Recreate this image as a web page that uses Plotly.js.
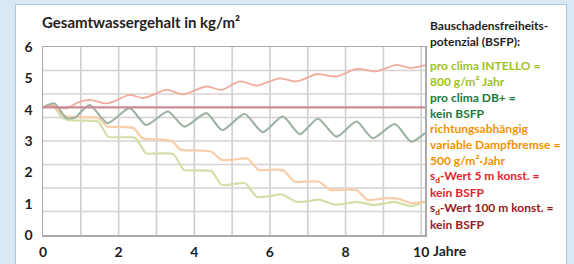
<!DOCTYPE html>
<html>
<head>
<meta charset="utf-8">
<script src="https://cdn.plot.ly/plotly-3.0.1.min.js"></script>
<style>
  html, body { margin: 0; padding: 0; }
  body { width: 574px; height: 264px; background: #d9e8f4; position: relative; overflow: hidden; }
  #frame { position: absolute; left: 15px; top: 4px; width: 550px; height: 262px; background: #ffffff;
           border-left: 1px solid #a9c7df; border-right: 1px solid #a9c7df; border-top: 1px solid #a9c7df; }
  #chart { position: absolute; left: 0; top: 0; width: 574px; height: 264px; }
</style>
</head>
<body>
<div id="frame"></div>
<div id="chart"></div>
<script>
// ---- data ----
const titleText = "Gesamtwassergehalt in kg/m²";
const xRange = [0, 10.1];
const yRange = [0, 6];
const xTickVals = [0, 2, 4, 6, 8, 10];
const xTickText = ["0", "2", "4", "6", "8", "10"];
const xGridVals = [1, 2, 3, 4, 5, 6, 7, 8, 9, 10];
const xUnit = "Jahre";
const yTickVals = [0, 1, 2, 3, 4, 5, 6];
const yGridVals = [0.75, 1.5, 2.25, 3, 3.75, 4.5, 5.25];

// s_d-Wert 100 m konst.
const sd100X = [0, 2, 4, 6, 8, 10.1];
const sd100Y = [4.07, 4.07, 4.07, 4.07, 4.07, 4.07];

// s_d-Wert 5 m konst.
const sd5X = [0, 0.25, 0.6, 0.95, 1.25, 1.7, 2.3, 2.65, 3.27, 3.7, 4.32, 4.72, 5.2, 5.65, 6.26, 6.7, 7.24, 7.76, 8.3, 8.8, 9.35, 9.72, 10.1];
const sd5Y = [4.07, 4.12, 4.04, 4.24, 4.31, 4.2, 4.47, 4.37, 4.63, 4.49, 4.74, 4.63, 4.9, 4.77, 5.0, 4.9, 5.13, 5.06, 5.3, 5.22, 5.43, 5.33, 5.42];

// pro clima DB+
const dbX = [0, 0.3, 0.62, 0.85, 1.23, 1.71, 2.29, 2.73, 3.3, 3.74, 4.32, 4.74, 5.33, 5.81, 6.34, 6.79, 7.27, 7.76, 8.29, 8.72, 9.3, 9.74, 10.1];
const dbY = [4.07, 4.2, 3.73, 3.75, 4.15, 3.57, 4.05, 3.51, 3.94, 3.46, 3.89, 3.35, 3.86, 3.28, 3.78, 3.22, 3.71, 3.14, 3.62, 3.09, 3.54, 2.98, 3.25];

// richtungsabhängig variable Dampfbremse
const rvX = [0, 0.25, 0.5, 0.65, 1.0, 1.45, 1.7, 2.0, 2.4, 2.62, 3.0, 3.4, 3.65, 4.0, 4.45, 4.72, 5.0, 5.4, 5.7, 6.0, 6.35, 6.65, 7.0, 7.3, 7.6, 8.0, 8.3, 8.58, 9.0, 9.35, 9.72, 10.1];
const rvY = [4.07, 4.12, 3.85, 3.78, 3.76, 3.74, 3.46, 3.45, 3.41, 3.09, 3.05, 3.0, 2.72, 2.7, 2.66, 2.4, 2.4, 2.44, 2.08, 2.08, 2.07, 1.7, 1.71, 1.7, 1.44, 1.45, 1.43, 1.12, 1.17, 1.17, 1.02, 1.07];

// pro clima INTELLO
const inX = [0, 0.25, 0.5, 0.65, 1.0, 1.45, 1.72, 2.0, 2.45, 2.72, 3.0, 3.45, 3.72, 4.0, 4.45, 4.72, 5.0, 5.35, 5.65, 6.0, 6.3, 6.7, 7.0, 7.3, 7.72, 8.0, 8.3, 8.72, 9.0, 9.3, 9.72, 10.1];
const inY = [4.07, 4.15, 3.75, 3.67, 3.65, 3.62, 3.14, 3.12, 3.09, 2.61, 2.6, 2.58, 2.08, 2.06, 2.04, 1.6, 1.62, 1.65, 1.22, 1.24, 1.3, 1.06, 1.08, 1.13, 0.97, 1.0, 1.06, 0.96, 1.0, 1.06, 0.92, 1.06];

const legendHeader = ["Bauschadensfreiheits-", "potenzial (BSFP):"];
const legendLines = [
  ["pro clima INTELLO =", "intello"],
  ["800 g/m² Jahr", "intello"],
  ["pro clima DB+ =", "db"],
  ["kein BSFP", "db"],
  ["richtungsabhängig", "rv"],
  ["variable Dampfbremse =", "rv"],
  ["500 g/m²·Jahr", "rv"],
  ["s<sub>d</sub>-Wert 5 m konst. =", "sd5"],
  ["kein BSFP", "sd5"],
  ["s<sub>d</sub>-Wert 100 m konst. =", "sd100"],
  ["kein BSFP", "sd100"]
];

// ---- styles ----
const textColors = { intello: "#9dc31c", db: "#1c7a3c", rv: "#f39200", sd5: "#e2262c", sd100: "#981b1e" };
const lineColors = { intello: "#d3dfa8", db: "#9cb2a2", rv: "#f9cda8", sd5: "#f2ab9c", sd100: "#c98c96" };
const FONT = "Lato, 'Open Sans', sans-serif";

const W = 574, H = 264;
const L = 43, R = 425, T = 47, B = 235;
const px = x => (x - L) / (R - L);
const py = y => (B - y) / (B - T);

// grid drawn as line traces built from the grid value lists, through the axes
const vGridX = [], vGridY = [], hGridX = [], hGridY = [];
xGridVals.forEach(v => { vGridX.push(v, v, null); vGridY.push(yRange[0], yRange[1], null); });
yGridVals.forEach(v => { hGridX.push(xRange[0], xRange[1], null); hGridY.push(v, v, null); });

const traces = [
  { x: vGridX, y: vGridY, mode: "lines", line: { color: "#cfcfcf", width: 1.6 }, hoverinfo: "skip", connectgaps: false },
  { x: hGridX, y: hGridY, mode: "lines", line: { color: "#d8d0d0", width: 1.6 }, hoverinfo: "skip", connectgaps: false },
  { x: inX, y: inY, mode: "lines", line: { color: lineColors.intello, width: 2.2, shape: "spline", smoothing: 0.6 } },
  { x: rvX, y: rvY, mode: "lines", line: { color: lineColors.rv, width: 2.2, shape: "spline", smoothing: 0.6 } },
  { x: dbX, y: dbY, mode: "lines", line: { color: lineColors.db, width: 2.1, shape: "spline", smoothing: 0.7 } },
  { x: sd5X, y: sd5Y, mode: "lines", line: { color: lineColors.sd5, width: 1.8, shape: "spline", smoothing: 0.8 } },
  { x: sd100X, y: sd100Y, mode: "lines", line: { color: lineColors.sd100, width: 2.2 } }
];

const annotations = [];
annotations.push({ text: titleText, xref: "paper", yref: "paper", x: px(40), y: py(22),
  xanchor: "left", yanchor: "middle", showarrow: false,
  font: { family: FONT, size: 15, color: "#1e1e1e", weight: 700 } });
annotations.push({ text: xUnit, xref: "paper", yref: "paper", x: px(431), y: py(250),
  xanchor: "left", yanchor: "middle", showarrow: false,
  font: { family: FONT, size: 14, color: "#1e1e1e", weight: 700 } });
legendHeader.forEach((t, i) => annotations.push({ text: t, xref: "paper", yref: "paper",
  x: px(428), y: py(25 + i * 17), xanchor: "left", yanchor: "middle", showarrow: false,
  font: { family: FONT, size: 12, color: "#1e1e1e", weight: 700 } }));
legendLines.forEach((l, i) => annotations.push({ text: l[0], xref: "paper", yref: "paper",
  x: px(428), y: py(65.5 + i * 15.85), xanchor: "left", yanchor: "middle", showarrow: false,
  font: { family: FONT, size: 12, color: textColors[l[1]], weight: 700 } }));

const layout = {
  width: W, height: H,
  margin: { l: L, r: W - R, t: T, b: H - B, pad: 0 },
  paper_bgcolor: "rgba(0,0,0,0)",
  plot_bgcolor: "rgba(0,0,0,0)",
  showlegend: false,
  font: { family: FONT, color: "#1e1e1e" },
  xaxis: {
    range: xRange, tickmode: "array", tickvals: xTickVals, ticktext: xTickText,
    showgrid: false,
    showline: true, linecolor: "#aaaaaa", linewidth: 1.5, mirror: true,
    ticks: "outside", ticklen: 4, tickcolor: "rgba(0,0,0,0)",
    tickfont: { family: FONT, size: 14, color: "#1e1e1e", weight: 700 },
    zeroline: false, fixedrange: true
  },
  yaxis: {
    range: yRange, tickmode: "array", tickvals: yTickVals,
    showgrid: false,
    showline: true, linecolor: "#aaaaaa", linewidth: 1.5, mirror: true,
    ticks: "outside", ticklen: 6, tickcolor: "rgba(0,0,0,0)",
    tickfont: { family: FONT, size: 14, color: "#1e1e1e", weight: 700 },
    zeroline: false, fixedrange: true
  },
  annotations: annotations
};

Plotly.newPlot("chart", traces, layout, { staticPlot: true, displayModeBar: false });
</script>
</body>
</html>
